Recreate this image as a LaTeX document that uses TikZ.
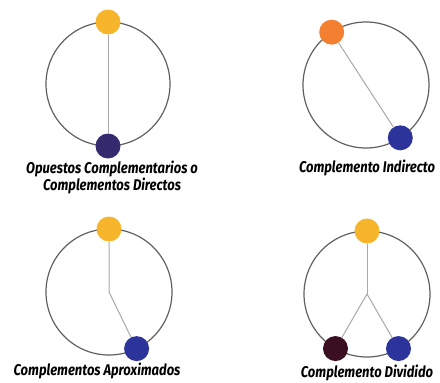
\documentclass[tikz,border=0pt]{standalone}
\usepackage{fontspec}
\setmainfont{Fira Sans}
\usetikzlibrary{calc}
\definecolor{ring}{HTML}{606060}
\definecolor{spoke}{HTML}{A8A8A8}
\definecolor{cyellow}{HTML}{F7B52C}
\definecolor{corange}{HTML}{F28030}
\definecolor{cviolet}{HTML}{352A6E}
\definecolor{cblue}{HTML}{2C349C}
\definecolor{cmaroon}{HTML}{3A0F22}
\newcommand{\narrowtxt}[1]{\scalebox{0.84}[1]{#1}}
\begin{document}
\begin{tikzpicture}[x=1pt,y=-1pt,
  ringline/.style={draw=ring,line width=1.2pt},
  spokeline/.style={draw=spoke,line width=1pt},
  dot/.style={circle,inner sep=0pt,minimum size=25pt},
  lbl/.style={font=\bfseries\itshape\fontsize{15.5}{17}\selectfont,align=center,text=black,inner sep=0pt}]
\useasboundingbox (0,0) rectangle (440,383);
% --- 1: Opuestos
\coordinate (c1) at (108,84);
\draw[ringline] (c1) circle[radius=62pt];
\node[dot,fill=cyellow] (a1) at (108,22) {};
\node[dot,fill=cviolet] (b1) at (108,146) {};
\draw[spokeline] (a1) -- (b1);
\node[lbl] (t1) at (112,177) {\narrowtxt{Opuestos Complementarios o}\\\narrowtxt{Complementos Directos}};
% --- 2: Indirecto
\coordinate (c2) at (366,85);
\draw[ringline] (c2) circle[radius=63pt];
\node[dot,fill=corange] (a2) at ($(c2)+(123:63pt)$) {};
\node[dot,fill=cblue] (b2) at ($(c2)+(-57:63pt)$) {};
\draw[spokeline] (a2) -- (b2);
\node[lbl] (t2) at (367,168) {\narrowtxt{Complemento Indirecto}};
% --- 3: Aproximados
\coordinate (c3) at (109,292);
\draw[ringline] (c3) circle[radius=63pt];
\node[dot,fill=cyellow] (a3) at ($(c3)+(90:63pt)$) {};
\node[dot,fill=cblue] (b3) at ($(c3)+(-64:63pt)$) {};
\draw[spokeline] (a3) -- (c3) -- (b3);
\node[lbl] (t3) at (97,371) {\narrowtxt{Complementos Aproximados}};
% --- 4: Dividido
\coordinate (c4) at (367,294);
\draw[ringline] (c4) circle[radius=63pt];
\node[dot,fill=cyellow] (a4) at ($(c4)+(90:63pt)$) {};
\node[dot,fill=cmaroon] (b4) at ($(c4)+(-120:63pt)$) {};
\node[dot,fill=cblue] (d4) at ($(c4)+(-60:63pt)$) {};
\draw[spokeline] (a4) -- (c4);
\draw[spokeline] (c4) -- (b4);
\draw[spokeline] (c4) -- (d4);
\node[lbl] (t4) at (367,373) {\narrowtxt{Complemento Dividido}};
\end{tikzpicture}
\end{document}
